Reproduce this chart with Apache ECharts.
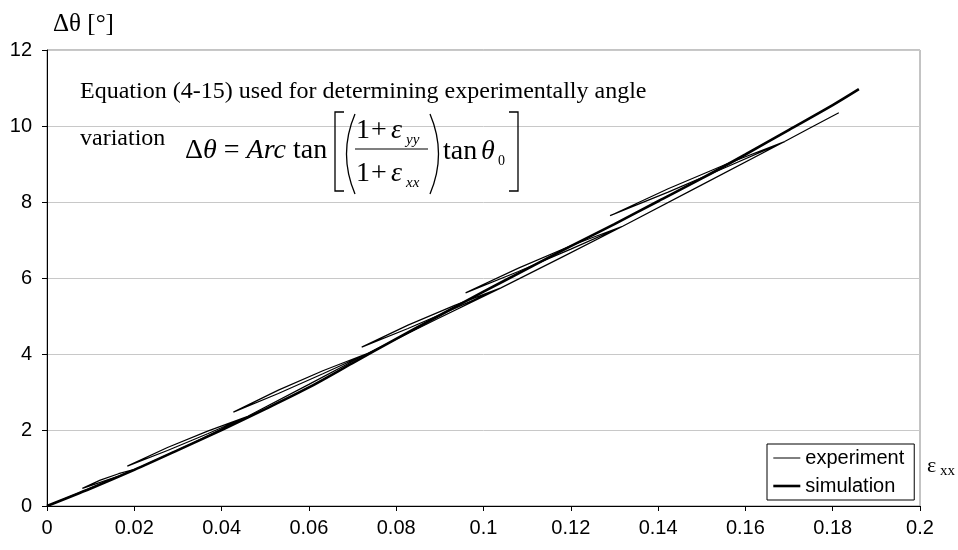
<!DOCTYPE html>
<html>
<head>
<meta charset="utf-8">
<script src="https://cdn.jsdelivr.net/npm/echarts@6/dist/echarts.min.js"></script>
<style>
  html, body { margin: 0; padding: 0; background: #fff; }
  #chart { width: 958px; height: 550px; }
</style>
</head>
<body>
<div id="chart"></div>
<script>
// Axis tick labels
const xTickLabels = ['0', '0.02', '0.04', '0.06', '0.08', '0.1', '0.12', '0.14', '0.16', '0.18', '0.2'];
const yTickLabels = ['0', '2', '4', '6', '8', '10', '12'];

// Simulated angle variation (deg) against strain exx
const simX = [0, 0.01, 0.02, 0.03, 0.04, 0.05, 0.06, 0.07, 0.08, 0.09, 0.1, 0.11, 0.12, 0.13, 0.14, 0.15, 0.16, 0.17, 0.18, 0.186];
const simY = [0, 0.46, 0.95, 1.47, 2.0, 2.55, 3.12, 3.76, 4.4, 5.02, 5.64, 6.24, 6.84, 7.42, 8.02, 8.62, 9.25, 9.9, 10.55, 10.97];

// Measured angle variation: cyclic loading with unload/reload loops
const expX = [
  0, 0.01, 0.0205,
  0.0164, 0.0122, 0.0081, 0.0122, 0.0164, 0.0205,
  0.033, 0.046,
  0.0368, 0.0276, 0.0184, 0.0276, 0.0368, 0.046,
  0.06, 0.0735,
  0.0632, 0.053, 0.0427, 0.053, 0.0632, 0.0735,
  0.089, 0.104,
  0.0934, 0.0827, 0.0721, 0.0827, 0.0934, 0.104,
  0.118, 0.132,
  0.12, 0.108, 0.0959, 0.108, 0.12, 0.132,
  0.15, 0.169,
  0.1557, 0.1423, 0.129, 0.1423, 0.1557, 0.169,
  0.175, 0.1814
];
const expY = [
  0, 0.47, 0.98,
  0.85, 0.68, 0.465, 0.62, 0.79, 0.98,
  1.63, 2.36,
  1.97, 1.54, 1.05, 1.46, 1.90, 2.36,
  3.2, 4.02,
  3.56, 3.05, 2.47, 2.96, 3.48, 4.02,
  4.9, 5.74,
  5.28, 4.76, 4.18, 4.67, 5.20, 5.74,
  6.55, 7.37,
  6.85, 6.26, 5.61, 6.17, 6.76, 7.37,
  8.45, 9.59,
  9.0, 8.35, 7.64, 8.26, 8.92, 9.59,
  9.96, 10.35
];

const SERIF = "'Liberation Serif', 'Times New Roman', serif";
const SANS = "'Liberation Sans', Arial, sans-serif";

const chart = echarts.init(document.getElementById('chart'), null, { renderer: 'canvas' });

function txt(x, y, text, size, opts) {
  return {
    type: 'text', x: x, y: y, z: 100,
    style: Object.assign({
      text: text, fill: '#000',
      font: (opts && opts.italic ? 'italic ' : '') + size + 'px ' + SERIF,
      verticalAlign: 'middle', align: 'left'
    }, opts && opts.style)
  };
}

const lineStyleBlack = { stroke: '#000', lineWidth: 1.3, fill: null };

const option = {
  animation: false,
  backgroundColor: '#fff',
  grid: {
    left: 47, top: 50, width: 873, height: 456,
    show: true, borderColor: '#888', borderWidth: 1, backgroundColor: 'transparent'
  },
  xAxis: {
    type: 'value', min: 0, max: 0.2, interval: 0.02,
    axisLine: { lineStyle: { color: '#000', width: 1 } },
    axisTick: { show: true, inside: false, length: 5, lineStyle: { color: '#000' } },
    splitLine: { show: false },
    axisLabel: {
      margin: 12, color: '#000', fontSize: 20, fontFamily: SANS,
      formatter: v => xTickLabels[Math.round(v / 0.02)]
    }
  },
  yAxis: {
    type: 'value', min: 0, max: 12, interval: 2,
    axisLine: { show: true, lineStyle: { color: '#000', width: 1 } },
    axisTick: { show: true, inside: false, length: 5, lineStyle: { color: '#000' } },
    splitLine: { show: true, lineStyle: { color: '#c8c8c8', width: 1 } },
    axisLabel: {
      margin: 15, color: '#000', fontSize: 20, fontFamily: SANS,
      formatter: v => yTickLabels[Math.round(v / 2)]
    }
  },
  legend: {
    orient: 'vertical', left: 767, top: 444,
    padding: [4, 10, 4, 5], itemGap: 8, itemWidth: 27, itemHeight: 14,
    borderColor: '#000', borderWidth: 1, borderRadius: 0, backgroundColor: '#fff',
    itemStyle: { opacity: 0 },
    textStyle: { color: '#000', fontSize: 20, fontFamily: SANS },
    data: [
      { name: 'experiment', lineStyle: { width: 1 } },
      { name: 'simulation', lineStyle: { width: 2.6 } }
    ]
  },
  series: [
    {
      name: 'experiment', type: 'line', symbol: 'none', z: 3,
      data: expX.map((x, i) => [x, expY[i]]),
      lineStyle: { color: '#000', width: 1.2 }, itemStyle: { color: '#000' }
    },
    {
      name: 'simulation', type: 'line', symbol: 'none', smooth: 0.3, z: 4,
      data: simX.map((x, i) => [x, simY[i]]),
      lineStyle: { color: '#000', width: 2.6 }, itemStyle: { color: '#000' }
    }
  ],
  graphic: [
    // axis captions
    txt(53, 24, 'Δθ [°]', 25),
    txt(927, 466, 'ε', 22),
    txt(940, 471, 'xx', 15),
    // annotation
    txt(80, 92, 'Equation (4-15) used for determining experimentally angle', 24),
    txt(80, 139, 'variation', 24),
    {
      type: 'text', x: 185, y: 151, z: 100,
      style: {
        text: '{u|Δ}{i|θ}{u| = }{i|Arc}{u| tan}',
        verticalAlign: 'middle', align: 'left',
        rich: {
          u: { fontFamily: SERIF, fontSize: 28, color: '#000' },
          i: { fontFamily: SERIF, fontSize: 28, fontStyle: 'italic', color: '#000' }
        }
      }
    },
    // numerator
    txt(356, 131, '1', 28),
    txt(371, 131, '+', 28),
    txt(391, 131, 'ε', 28, { italic: true }),
    txt(406, 140, 'yy', 15, { italic: true }),
    // denominator
    txt(356, 174, '1', 28),
    txt(371, 174, '+', 28),
    txt(391, 174, 'ε', 28, { italic: true }),
    txt(406, 183, 'xx', 15, { italic: true }),
    // fraction bar
    { type: 'line', z: 100, shape: { x1: 355, y1: 149, x2: 428, y2: 149 }, style: { stroke: '#000', lineWidth: 1.2 } },
    // parentheses
    { type: 'bezierCurve', z: 100, shape: { x1: 355, y1: 114, x2: 355, y2: 194, cpx1: 338, cpy1: 154 }, style: lineStyleBlack },
    { type: 'bezierCurve', z: 100, shape: { x1: 430, y1: 114, x2: 430, y2: 194, cpx1: 447, cpy1: 154 }, style: lineStyleBlack },
    // square brackets
    { type: 'polyline', z: 100, shape: { points: [[344, 112], [335, 112], [335, 191], [344, 191]] }, style: lineStyleBlack },
    { type: 'polyline', z: 100, shape: { points: [[509, 112], [518, 112], [518, 191], [509, 191]] }, style: lineStyleBlack },
    // tan theta0
    txt(443, 152, 'tan', 28),
    txt(481, 152, 'θ', 28, { italic: true }),
    txt(498, 161, '0', 14)
  ]
};

chart.setOption(option);
</script>
</body>
</html>
